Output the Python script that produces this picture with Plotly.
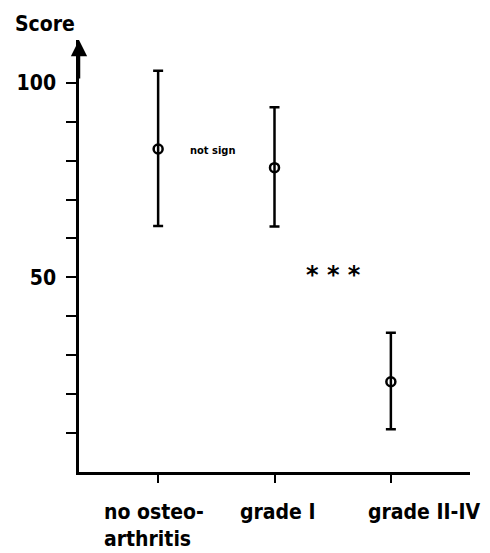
import plotly.graph_objects as go

# ---- data ----
groups = ["no osteo-<br>arthritis", "grade I", "grade II-IV"]
group_x = [0, 1, 2]
score_mean = [83.0, 78.2, 23.2]
score_upper = [103.1, 93.7, 35.8]
score_lower = [63.2, 63.1, 11.0]
y_tickvals = [10, 20, 30, 40, 50, 60, 70, 80, 90, 100]
y_ticktext = ["", "", "", "", "<b>50</b>", "", "", "", "", "<b>100</b>"]

err_plus = [u - m for u, m in zip(score_upper, score_mean)]
err_minus = [m - l for m, l in zip(score_mean, score_lower)]

FONT = "DejaVu Sans Condensed, sans-serif"

fig = go.Figure()
fig.add_trace(go.Scatter(
    x=group_x, y=score_mean, mode="markers",
    marker=dict(symbol="circle-open", size=9, color="black", line=dict(width=2.5, color="black")),
    error_y=dict(type="data", symmetric=False, array=err_plus, arrayminus=err_minus,
                 color="black", thickness=2.5, width=5),
    showlegend=False, hoverinfo="skip",
))

# category labels (left aligned, two lines)
label_x = [-0.48, 0.687, 1.79]
for lx, txt in zip(label_x, groups):
    fig.add_annotation(x=lx, y=0, xref="x", yref="y", text="<b>" + txt + "</b>", showarrow=False,
                       xanchor="left", yanchor="top", yshift=-26, align="left",
                       font=dict(family=FONT, size=21, color="black"))

# significance annotations
fig.add_annotation(x=0.47, y=82.5, xref="x", yref="y", text="<b>not sign</b>", showarrow=False,
                   font=dict(family=FONT, size=11, color="black"))
fig.add_annotation(x=1.51, y=50.5, xref="x", yref="y", text="<b>* * *</b>", showarrow=False,
                   font=dict(family="DejaVu Sans, sans-serif", size=24, color="black"))

# axis title "Score"
fig.add_annotation(x=-0.169, y=1.037, xref="paper", yref="paper", text="<b>Score</b>",
                   showarrow=False, xanchor="left", yanchor="middle",
                   font=dict(family=FONT, size=21, color="black"))

# arrow on y axis top
fig.add_annotation(x=0, y=1, xref="paper", yref="paper", ax=0, ay=40, axref="pixel", ayref="pixel",
                   text="", showarrow=True, arrowhead=2, arrowsize=1.3, arrowwidth=2.5,
                   arrowcolor="black", standoff=0)

fig.update_layout(
    width=490, height=553,
    margin=dict(l=79, r=20, t=40, b=81),
    paper_bgcolor="white", plot_bgcolor="white",
    xaxis=dict(range=[-0.68, 2.68], showgrid=False, zeroline=False, showline=True,
               linecolor="black", linewidth=2.5, ticks="outside", ticklen=8, tickwidth=2,
               tickcolor="black", tickvals=group_x, ticktext=["", "", ""], fixedrange=True),
    yaxis=dict(range=[0, 111], showgrid=False, zeroline=False, showline=True,
               linecolor="black", linewidth=2.5, ticks="outside", ticklen=10, tickwidth=2,
               tickcolor="black", tickvals=y_tickvals, ticktext=y_ticktext,
               tickfont=dict(family=FONT, size=21, color="black"), ticklabelstandoff=6),
)

fig.write_html("out.html")
